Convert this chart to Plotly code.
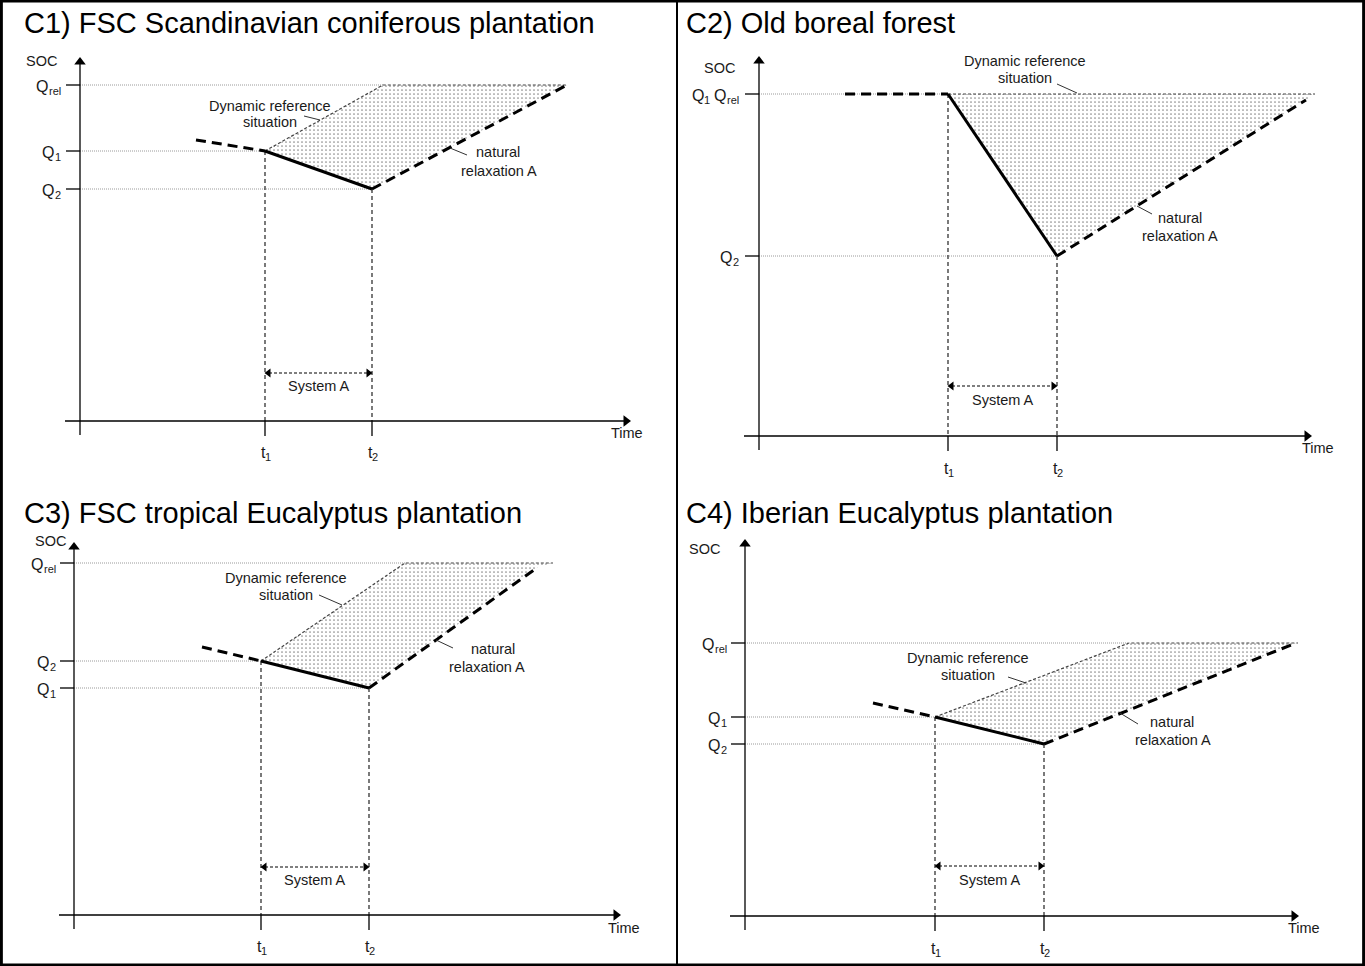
import plotly.graph_objects as go

FIG_W, FIG_H = 1365, 966
FONT = "Liberation Sans, Arial, Helvetica, sans-serif"

# ---------------- data (schematic SOC / time values, origin at axis crossing) -------------
titles = ["C1) FSC Scandinavian coniferous plantation", "C2) Old boreal forest",
          "C3) FSC tropical Eucalyptus plantation", "C4) Iberian Eucalyptus plantation"]
t_pre = [116, 86, 128, 128]            # start of the preceding (dashed) trend
soc_pre = [281, 342, 268, 213]
t_1 = [185, 189, 187, 190]
t_2 = [292, 298, 295, 299]
soc_t1 = [270, 342, 254, 199]          # SOC level at t1
soc_t2 = [232, 180, 227, 172]          # SOC level at t2
q_rel = [336, 342, 352, 273]           # relaxation SOC level
t_ref = [303, 189, 331, 384]           # time when dynamic reference reaches Q_rel
t_ref_end = [487, 556, 479, 553]
t_relax_end = [487, 547, 464, 551]
soc_relax_end = [336, 336, 348, 273]
tick_soc = [[336, 270, 232], [342, 180], [352, 254, 227], [273, 199, 172]]
# tick labels as (main, subscript) pieces
tick_text = [[[("Q", "rel")], [("Q", "1")], [("Q", "2")]],
             [[("Q", "1"), ("Q", "rel")], [("Q", "2")]],
             [[("Q", "rel")], [("Q", "2")], [("Q", "1")]],
             [[("Q", "rel")], [("Q", "1")], [("Q", "2")]]]
time_ticks_text = [("t", "1"), ("t", "2")]
time_max = [550, 552, 546, 553]
soc_max = [363, 379, 372, 376]
system_soc = [48, 50, 48, 50]

# ---------------- layout helpers (positions, sizes, styles) -------------
origins = [(80, 421), (759, 436), (74, 915), (745, 916)]
boxes = [(0, 677, 0, 490), (677, 1365, 0, 490), (0, 677, 490, 966), (677, 1365, 490, 966)]
title_pos = [(22, 23.5), (684, 23.5), (22, 513), (684, 513)]
soc_lab = [(-39, 360), (-40, 368), (-24, 374), (-41, 367)]
q_lab_x = [-20, -21, -19, -19]
dyn_lab = [(190, 315, 299), (266, 375, 358), (212, 337, 320), (223, 258, 241)]
dyn_leader = [((224, 305), (240, 301)), ((298, 352), (318, 343)),
              ((245, 320), (268, 310)), ((263, 239), (281, 233))]
nat_lab = [(418, 269, 419, 250), (421, 218, 421, 200), (419, 266, 413, 248), (427, 194, 428, 176)]
nat_leader = [((370, 273), (387, 266)), ((378, 230), (393, 222)),
              ((362, 275), (379, 267)), ((375, 203), (393, 192))]
time_lab = [(547, -12), (559, -12), (550, -13), (559, -12)]
t_lab_y = [-30, -31, -30, -31]
sys_lab_y = [35, 36, 35, 36]

MAIN_SIZE, SUB_SIZE = 16, 11
ARIAL_W = {"Q": 0.778, "t": 0.278, "r": 0.333, "e": 0.556, "l": 0.222, "1": 0.556, "2": 0.556}


def text_w(s, size):
    return sum(ARIAL_W.get(c, 0.55) for c in s) * size


fig = go.Figure()
annotations = []
layout_axes = {}

for i in range(4):
    ox, oy = origins[i]
    L, R, T, B = boxes[i]
    xname = "x" if i == 0 else f"x{i+1}"
    yname = "y" if i == 0 else f"y{i+1}"
    xkey = "xaxis" if i == 0 else f"xaxis{i+1}"
    ykey = "yaxis" if i == 0 else f"yaxis{i+1}"
    layout_axes[xkey] = dict(domain=[L / FIG_W, R / FIG_W], range=[L - ox, R - ox],
                             visible=False, fixedrange=True, anchor=yname)
    layout_axes[ykey] = dict(domain=[1 - B / FIG_H, 1 - T / FIG_H], range=[oy - B, oy - T],
                             visible=False, fixedrange=True, anchor=xname)
    tr = dict(xaxis=xname, yaxis=yname, hoverinfo="skip", showlegend=False)

    a1, a2 = t_1[i], t_2[i]
    s1, s2 = soc_t1[i], soc_t2[i]

    # stippled area between dynamic reference and system path
    fig.add_trace(go.Scatter(
        x=[a1, t_ref[i], t_ref_end[i], t_relax_end[i], a2, a1],
        y=[s1, q_rel[i], q_rel[i], soc_relax_end[i], s2, s1],
        mode="lines", fill="toself", line=dict(width=0, color="rgba(0,0,0,0)"),
        fillpattern=dict(shape=".", size=4, solidity=0.14, fgcolor="#111", bgcolor="white"),
        **tr))

    # gray dotted guide lines from the SOC axis
    gx, gy = [], []
    for v in tick_soc[i]:
        if v == q_rel[i]:
            end = t_ref[i]
        elif v == s1:
            end = a1
        else:
            end = a2
        gx += [0, end, None]
        gy += [v, v, None]
    fig.add_trace(go.Scatter(x=gx, y=gy, mode="lines",
                             line=dict(color="#9a9a9a", width=1, dash="1px,1px"), **tr))

    # vertical dashed lines at t1 and t2
    fig.add_trace(go.Scatter(x=[a1, a1, None, a2, a2], y=[s1, 0, None, s2, 0], mode="lines",
                             line=dict(color="#333", width=1.3, dash="4px,3px"), **tr))

    # dynamic reference situation
    fig.add_trace(go.Scatter(x=[a1, t_ref[i], t_ref_end[i]], y=[s1, q_rel[i], q_rel[i]],
                             mode="lines", line=dict(color="#444", width=1.2, dash="3px,2px"), **tr))

    # preceding trend (dashed), system A (solid), natural relaxation (dashed)
    fig.add_trace(go.Scatter(x=[t_pre[i], a1], y=[soc_pre[i], s1], mode="lines",
                             line=dict(color="black", width=3, dash="10px,6px"), **tr))
    fig.add_trace(go.Scatter(x=[a1, a2], y=[s1, s2], mode="lines",
                             line=dict(color="black", width=3), **tr))
    fig.add_trace(go.Scatter(x=[a2, t_relax_end[i]], y=[s2, soc_relax_end[i]], mode="lines",
                             line=dict(color="black", width=3, dash="10px,6px"), **tr))

    # axes lines and tick marks
    kx, ky = [-15, time_max[i] - 3, None, 0, 0, None], [0, 0, None, -14, soc_max[i] - 3, None]
    for v in tick_soc[i]:
        kx += [-14, 0, None]
        ky += [v, v, None]
    for tv in (a1, a2):
        kx += [tv, tv, None]
        ky += [0, -15, None]
    fig.add_trace(go.Scatter(x=kx, y=ky, mode="lines", line=dict(color="black", width=1.3), **tr))
    # arrow heads of the axes
    fig.add_trace(go.Scatter(x=[time_max[i] - 4], y=[0], mode="markers",
                             marker=dict(symbol="triangle-right", size=10, color="black",
                                         line=dict(width=0)), **tr))
    fig.add_trace(go.Scatter(x=[0], y=[soc_max[i] - 4], mode="markers",
                             marker=dict(symbol="triangle-up", size=10, color="black",
                                         line=dict(width=0)), **tr))

    # System A span with arrow heads
    fig.add_trace(go.Scatter(x=[a1 + 4, a2 - 4], y=[system_soc[i]] * 2, mode="lines",
                             line=dict(color="black", width=1.1, dash="3px,2px"), **tr))
    fig.add_trace(go.Scatter(x=[a1 + 3.5, a2 - 3.5], y=[system_soc[i]] * 2, mode="markers",
                             marker=dict(symbol=["triangle-left", "triangle-right"], size=8,
                                         color="black", line=dict(width=0)), **tr))

    # leader lines
    lx, ly = [], []
    for (p, q) in (dyn_leader[i], nat_leader[i]):
        lx += [p[0], q[0], None]
        ly += [p[1], q[1], None]
    fig.add_trace(go.Scatter(x=lx, y=ly, mode="lines", line=dict(color="#333", width=1), **tr))

    ref = dict(xref=xname, yref=yname)
    small = dict(family=FONT, size=14.5, color="#1a1a1a")
    mfont = dict(family=FONT, size=MAIN_SIZE, color="#1a1a1a")
    sfont = dict(family=FONT, size=SUB_SIZE, color="#1a1a1a")

    def put_sub_label(pieces, x_left, y):
        x = x_left
        for k, (main, sub) in enumerate(pieces):
            if k > 0:
                x += 4
            annotations.append(dict(x=x, y=y, text=main, showarrow=False, xanchor="left",
                                    yanchor="middle", yshift=-1, borderpad=0, font=mfont, **ref))
            x += text_w(main, MAIN_SIZE)
            annotations.append(dict(x=x, y=y, text=sub, showarrow=False, xanchor="left",
                                    yanchor="middle", yshift=-6, borderpad=0, font=sfont, **ref))
            x += text_w(sub, SUB_SIZE)

    def width_of(pieces):
        return sum(text_w(m, MAIN_SIZE) + text_w(s, SUB_SIZE) for m, s in pieces) + 4 * (len(pieces) - 1)

    # text labels
    annotations.append(dict(x=soc_lab[i][0], y=soc_lab[i][1], text="SOC", showarrow=False,
                            font=small, **ref))
    for v, pieces in zip(tick_soc[i], tick_text[i]):
        put_sub_label(pieces, q_lab_x[i] - width_of(pieces), v)
    for tv, pieces in zip((a1, a2), time_ticks_text):
        put_sub_label([pieces], tv - width_of([pieces]) / 2, t_lab_y[i])
    annotations.append(dict(x=time_lab[i][0], y=time_lab[i][1], text="Time", showarrow=False,
                            font=small, **ref))
    annotations.append(dict(x=(a1 + a2) / 2, y=sys_lab_y[i], text="System A", showarrow=False,
                            font=small, **ref))
    annotations.append(dict(x=dyn_lab[i][0], y=dyn_lab[i][1], text="Dynamic reference",
                            showarrow=False, font=small, **ref))
    annotations.append(dict(x=dyn_lab[i][0], y=dyn_lab[i][2], text="situation",
                            showarrow=False, font=small, **ref))
    annotations.append(dict(x=nat_lab[i][0], y=nat_lab[i][1], text="natural",
                            showarrow=False, font=small, **ref))
    annotations.append(dict(x=nat_lab[i][2], y=nat_lab[i][3], text="relaxation A",
                            showarrow=False, font=small, **ref))

    # panel title
    annotations.append(dict(x=title_pos[i][0] / FIG_W, y=1 - title_pos[i][1] / FIG_H,
                            xref="paper", yref="paper", text=titles[i], showarrow=False,
                            xanchor="left", yanchor="middle",
                            font=dict(family=FONT, size=29, color="black")))

shapes = [
    dict(type="rect", xref="paper", yref="paper", x0=0.001, y0=0.001, x1=0.999, y1=0.999,
         line=dict(color="black", width=3)),
    dict(type="line", xref="paper", yref="paper", x0=677 / FIG_W, x1=677 / FIG_W, y0=0, y1=1,
         line=dict(color="black", width=2)),
]

fig.update_layout(width=FIG_W, height=FIG_H, margin=dict(l=0, r=0, t=0, b=0),
                  paper_bgcolor="white", plot_bgcolor="white", showlegend=False,
                  annotations=annotations, shapes=shapes, **layout_axes)
fig.write_html("out.html")
